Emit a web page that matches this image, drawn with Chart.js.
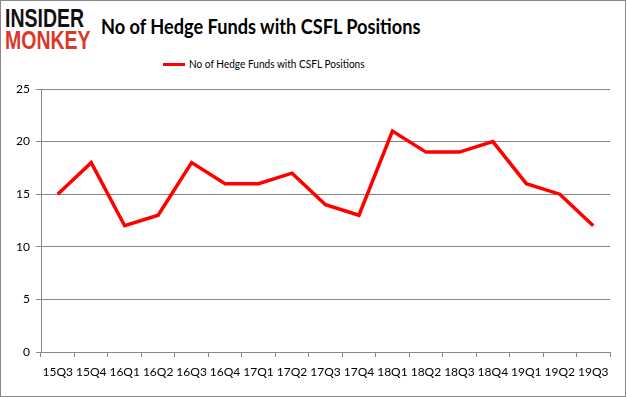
<!DOCTYPE html>
<html>
<head>
<meta charset="utf-8">
<script src="https://cdn.jsdelivr.net/npm/chart.js@4"></script>
<style>
  html, body { margin: 0; padding: 0; background: #fff; }
  #frame {
    position: relative; width: 624px; height: 395px;
    border: 1px solid #888; overflow: hidden; background: #fff;
  }
  #chart { position: absolute; left: 0; top: 0; }
  .logo { position: absolute; left: 4px; font-family: "Liberation Sans", Arial, sans-serif;
    font-weight: 900; font-size: 25px; line-height: 20px; transform-origin: left top;
    transform: scaleX(0.78); letter-spacing: 0px; }
  #logo1 { top: 7px; color: #111; }
  #logo2 { top: 29px; color: #d8392b; }
  #title { position: absolute; left: 100px; top: 12px; font-family: Lato, "Open Sans", sans-serif;
    font-weight: bold; font-size: 21px; color: #000; white-space: nowrap;
    transform-origin: left top; transform: scaleX(0.865); }
  #legend { position: absolute; left: 162px; top: 55px; font-family: Lato, "Open Sans", sans-serif;
    font-size: 12px; color: #000; white-space: nowrap;
    transform-origin: left top; }
  #legend span.swatch { display: inline-block; width: 22px; height: 3px; background: #ff0000;
    vertical-align: middle; margin-right: 4px; }
  #legend span.txt { display: inline-block; transform-origin: left center; transform: scaleX(0.84); }
</style>
</head>
<body>
<div id="frame">
  <div class="logo" id="logo1">INSIDER</div>
  <div class="logo" id="logo2">MONKEY</div>
  <div id="title">No of Hedge Funds with CSFL Positions</div>
  <div id="legend"></div>
  <canvas id="chart" width="624" height="395"></canvas>
</div>
<script>
const quarters = ['15Q3', '15Q4', '16Q1', '16Q2', '16Q3', '16Q4', '17Q1', '17Q2', '17Q3',
  '17Q4', '18Q1', '18Q2', '18Q3', '18Q4', '19Q1', '19Q2', '19Q3'];
const hedgeFunds = [15, 18, 12, 13, 18, 16, 16, 17, 14, 13, 21, 19, 19, 20, 16, 15, 12];
const seriesName = 'No of Hedge Funds with CSFL Positions';
const yTicks = [0, 5, 10, 15, 20, 25];

const lineColor = '#ff0000';
const gridColor = '#868686';
const font = { family: 'Lato, "Open Sans", sans-serif', size: 12 };

document.getElementById('legend').innerHTML =
  '<span class="swatch"></span><span class="txt">' + seriesName + '</span>';

const ctx = document.getElementById('chart');

new Chart(ctx, {
  type: 'line',
  data: {
    labels: quarters,
    datasets: [{
      label: seriesName,
      data: hedgeFunds,
      borderColor: lineColor,
      backgroundColor: lineColor,
      borderWidth: 3.5,
      pointRadius: 0,
      tension: 0,
    }]
  },
  options: {
    responsive: false,
    animation: false,
    layout: { padding: { top: 88, right: 15, left: 0, bottom: 0 } },
    plugins: {
      legend: { display: false },
      tooltip: { enabled: false },
    },
    scales: {
      x: {
        offset: true,
        grid: {
          offset: true,
          drawOnChartArea: false,
          color: gridColor,
          tickLength: 5,
        },
        border: { color: gridColor },
        ticks: { color: '#000', font: font, maxRotation: 0, autoSkip: false, padding: 8 },
        afterFit: function (scale) { scale.height = 44; },
      },
      y: {
        min: 0,
        max: 25,
        afterBuildTicks: function (scale) {
          scale.ticks = yTicks.map(v => ({ value: v }));
        },
        grid: { color: gridColor, tickLength: 5 },
        border: { color: gridColor },
        ticks: { color: '#000', font: font, padding: 6 },
        afterFit: function (scale) { scale.width = 40; },
      }
    }
  }
});
</script>
</body>
</html>
